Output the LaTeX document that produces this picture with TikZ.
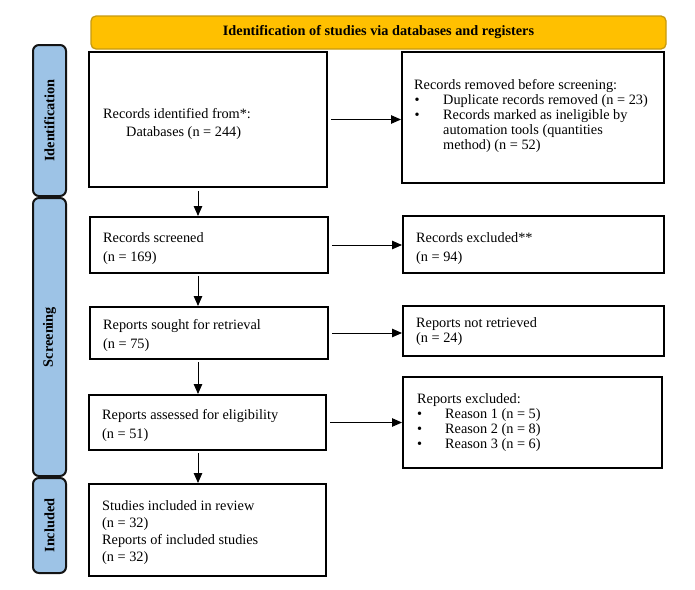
\documentclass[tikz,border=0pt]{standalone}
\usepackage{fontspec}
\setmainfont{Liberation Serif}
\usetikzlibrary{arrows.meta,calc}
\definecolor{bannerfill}{HTML}{FFC000}
\definecolor{bannerline}{HTML}{C79A10}
\definecolor{sidefill}{HTML}{9DC3E6}
\definecolor{sideline}{HTML}{141414}
\begin{document}
\begin{tikzpicture}[x=1pt,y=-1pt,
  box/.style={draw=black, line width=2pt, inner sep=0pt, fill=white},
  txt/.style={anchor=base west, align=left, inner sep=0pt, font=\fontsize{14.3}{19}\selectfont},
  txtl/.style={txt, font=\fontsize{14.3}{15}\selectfont},
  banner/.style={draw=bannerline, line width=1.3pt, fill=bannerfill, rounded corners=5pt, inner sep=0pt,
    minimum width=575pt, minimum height=33pt, font=\fontsize{14.3}{16}\selectfont\bfseries},
  side/.style={draw=sideline, line width=2pt, fill=sidefill, rounded corners=6pt, inner sep=0pt,
    minimum width=33pt, font=\fontsize{14.3}{16}\selectfont\bfseries},
  arr/.style={line width=1pt, -{Triangle[length=10pt,width=8.5pt]}}]
\useasboundingbox[fill=white] (0,0) rectangle (695,589);

% banner and side bars
\node[banner] (ban) at (378.5,32.5) {Identification of studies via databases and registers};
\node[side, minimum height=151pt] (sid) at (49.5,120.5) {};
\node[rotate=90, font=\fontsize{14.3}{16}\selectfont\bfseries, inner sep=0pt] (sidt) at (sid.center) {Identification};
\node[side, minimum height=278pt] (sis) at (49.5,337) {};
\node[rotate=90, font=\fontsize{14.3}{16}\selectfont\bfseries, inner sep=0pt] (sist) at (sis.center) {Screening};
\node[side, minimum height=95pt] (sii) at (49.5,525.5) {};
\node[rotate=90, font=\fontsize{14.3}{16}\selectfont\bfseries, inner sep=0pt] (siit) at (sii.center) {Included};

% boxes
\node[box, minimum width=238pt, minimum height=135pt] (b1) at (208,119.5) {};
\node[box, minimum width=262pt, minimum height=131pt] (b2) at (533,117.5) {};
\node[box, minimum width=238pt, minimum height=56pt] (b3) at (209,245) {};
\node[box, minimum width=261pt, minimum height=57pt] (b4) at (533.5,244.5) {};
\node[box, minimum width=238pt, minimum height=52pt] (b5) at (209,333) {};
\node[box, minimum width=261pt, minimum height=50pt] (b6) at (533.5,331) {};
\node[box, minimum width=237pt, minimum height=55pt] (b7) at (207.5,422.5) {};
\node[box, minimum width=259pt, minimum height=91pt] (b8) at (532.5,422.5) {};
\node[box, minimum width=237pt, minimum height=92pt] (b9) at (207.5,530) {};

% texts (base west = baseline of the last line)
\node[txt, font=\fontsize{14.3}{18}\selectfont] (t1) at (103,136.5) {Records identified from*:\\\hspace{23pt}Databases (n = 244)};
\node[txtl] (t2) at (414,149) {Records removed before screening:\\
  \makebox[29pt][l]{\hspace{0.5pt}\textbullet}Duplicate records removed (n = 23)\\
  \makebox[29pt][l]{\hspace{0.5pt}\textbullet}Records marked as ineligible by\\
  \hspace{29pt}automation tools (quantities\\
  \hspace{29pt}method) (n = 52)};
\node[txt] (t3) at (103,261) {Records screened\\(n = 169)};
\node[txt] (t4) at (416,261) {Records excluded**\\(n = 94)};
\node[txt] (t5) at (103,348) {Reports sought for retrieval\\(n = 75)};
\node[txtl] (t6) at (416,342) {Reports not retrieved\\(n = 24)};
\node[txt] (t7) at (102,438) {Reports assessed for eligibility\\(n = 51)};
\node[txtl] (t8) at (417,448) {Reports excluded:\\
  \makebox[28pt][l]{\textbullet}Reason 1 (n = 5)\\
  \makebox[28pt][l]{\textbullet}Reason 2 (n = 8)\\
  \makebox[28pt][l]{\textbullet}Reason 3 (n = 6)};
\node[txt, font=\fontsize{14.3}{16.7}\selectfont] (t9) at (102,561) {Studies included in review\\(n = 32)\\Reports of included studies\\(n = 32)};

% connectors
\coordinate (ax) at (198,0);
\draw[arr] ([xshift=3pt]b1.east) -- (b1.east -| b2.west);
\draw[arr] ([xshift=3pt]b3.east) -- (b3.east -| b4.west);
\draw[arr] ([xshift=3pt]b5.east) -- (b5.east -| b6.west);
\draw[arr] ([xshift=3pt]b7.east) -- (b7.east -| b8.west);
\draw[arr] ($(b1.south -| ax)+(0,3)$) -- (b3.north -| ax);
\draw[arr] ($(b3.south -| ax)+(0,2)$) -- (b5.north -| ax);
\draw[arr] ($(b5.south -| ax)+(0,2)$) -- (b7.north -| ax);
\draw[arr] ($(b7.south -| ax)+(0,2)$) -- (b9.north -| ax);
\end{tikzpicture}
\end{document}
